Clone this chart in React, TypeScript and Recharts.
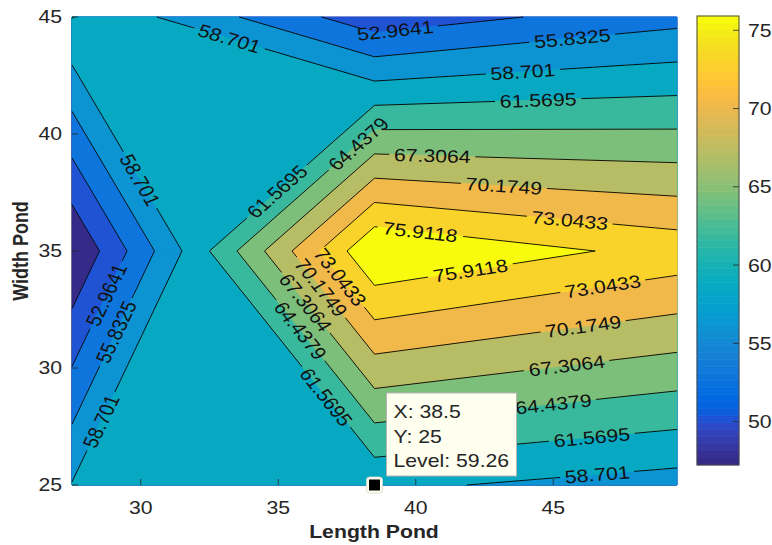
import React from 'react';
import { ComposedChart, Scatter, XAxis, YAxis } from 'recharts';

// grid the surface was sampled on (Length Pond x Width Pond)
const LENGTH_POND = [27.5, 38.5, 49.5];
const WIDTH_POND = [25, 35, 45];
const LEVEL_W25 = [58.85, 59.26, 57.43];
const LEVEL_W35 = [47.2271, 78.7803, 74.85];
const LEVEL_W45 = [61.65, 51.13, 54.86];

const CONTOUR_LEVELS = [50.0956, 52.9641, 55.8325, 58.701, 61.5695, 64.4379, 67.3064, 70.1749, 73.0433, 75.9118];
const X_TICKS = [30, 35, 40, 45];
const Y_TICKS = [25, 30, 35, 40, 45];
const COLORBAR_TICKS = [50, 55, 60, 65, 70, 75];
const PROBE = [{ x: 38.5, y: 25 }];

// where the inline labels sit: [level, length, width]
const LABEL_SPOTS: [number, number, number][] = [
  [52.9641, 39.25, 44.44], [52.9641, 28.8, 33.1],
  [55.8325, 45.7, 44.0], [55.8325, 29.2, 31.5],
  [58.701, 33.2, 44.0], [58.701, 43.9, 42.6], [58.701, 29.9, 38.0], [58.701, 28.6, 27.7], [58.701, 46.6, 25.4],
  [61.5695, 44.45, 41.45], [61.5695, 35.0, 37.5], [61.5695, 36.8, 28.8], [61.5695, 46.4, 27.05],
  [64.4379, 38.1, 39.4], [64.4379, 35.8, 31.6], [64.4379, 45.0, 28.5],
  [67.3064, 40.6, 39.0], [67.3064, 36.15, 32.9], [67.3064, 45.5, 30.0],
  [70.1749, 43.2, 37.7], [70.1749, 36.5, 33.4], [70.1749, 46.1, 31.7],
  [73.0433, 45.6, 36.3], [73.0433, 37.2, 33.85], [73.0433, 46.8, 33.5],
  [75.9118, 40.15, 35.7], [75.9118, 42.0, 34.1],
];

// parula, 64 steps
const PARULA = [
  '#352a87', '#363093', '#3637a0', '#353dad', '#3243ba', '#2c4ac7', '#2053d4', '#0f5cdd',
  '#0363e1', '#0268e1', '#046de0', '#0871de', '#0d75dc', '#1079da', '#127dd8', '#1481d6',
  '#1485d4', '#1389d3', '#108ed2', '#0c93d2', '#0998d1', '#079ccf', '#06a0cd', '#06a4ca',
  '#06a7c6', '#07a9c2', '#0aacbe', '#0faeb9', '#15b1b4', '#1db3af', '#25b5a9', '#2eb7a4',
  '#38b99e', '#42bb98', '#4dbc92', '#59bd8c', '#65be86', '#71bf80', '#7cbf7b', '#87bf77',
  '#92bf73', '#9cbf6f', '#a5be6b', '#aebe67', '#b7bd64', '#c0bc60', '#c8bc5d', '#d1bb59',
  '#d9ba56', '#e1b952', '#e9b94e', '#f1b94a', '#f8bb44', '#fdbe3d', '#ffc337', '#fec832',
  '#fcce2e', '#fad32a', '#f7d826', '#f5de21', '#f5e41d', '#f5eb18', '#f6f313', '#f9fb0e',
];

const W = 772;
const H = 545;
const S = 1.18; // the exported figure was stretched sideways
const FONT = '"Liberation Sans", Arial, Helvetica, sans-serif';
const INK = '#262626';

const GRID = [LEVEL_W25, LEVEL_W35, LEVEL_W45];
const C_MIN = Math.min(...GRID.flat());
const C_MAX = CONTOUR_LEVELS[CONTOUR_LEVELS.length - 1];

type Pt = { x: number; y: number };
type Cell = { p: Pt[]; v: number[] };

const CELLS: Cell[] = [];
for (let j = 0; j < WIDTH_POND.length - 1; j++) {
  for (let i = 0; i < LENGTH_POND.length - 1; i++) {
    const x0 = LENGTH_POND[i], x1 = LENGTH_POND[i + 1];
    const y0 = WIDTH_POND[j], y1 = WIDTH_POND[j + 1];
    CELLS.push({
      p: [{ x: x0, y: y0 }, { x: x1, y: y0 }, { x: x1, y: y1 }, { x: x0, y: y1 }],
      v: [GRID[j][i], GRID[j][i + 1], GRID[j + 1][i + 1], GRID[j + 1][i]],
    });
  }
}

const mean = (v: number[]) => v.reduce((a, b) => a + b, 0) / v.length;
const isSaddle = (hi: boolean[]) => hi[0] === hi[2] && hi[1] === hi[3] && hi[0] !== hi[1];

function cross(c: Cell, a: number, b: number, lev: number): Pt {
  const t = (lev - c.v[a]) / (c.v[b] - c.v[a]);
  return { x: c.p[a].x + t * (c.p[b].x - c.p[a].x), y: c.p[a].y + t * (c.p[b].y - c.p[a].y) };
}

// part of a cell at or above lev (marching squares)
function region(c: Cell, lev: number): Pt[][] {
  const hi = c.v.map((v) => v >= lev);
  if (!hi.some(Boolean)) return [];
  if (isSaddle(hi) && mean(c.v) < lev) {
    return [0, 1, 2, 3]
      .filter((k) => hi[k])
      .map((k) => [cross(c, (k + 3) % 4, k, lev), c.p[k], cross(c, k, (k + 1) % 4, lev)]);
  }
  const poly: Pt[] = [];
  for (let k = 0; k < 4; k++) {
    const m = (k + 1) % 4;
    if (hi[k]) poly.push(c.p[k]);
    if (hi[k] !== hi[m]) poly.push(cross(c, k, m, lev));
  }
  return [poly];
}

function segments(c: Cell, lev: number): Pt[][] {
  const hi = c.v.map((v) => v >= lev);
  if (isSaddle(hi)) {
    const wrap = mean(c.v) < lev;
    return [0, 1, 2, 3]
      .filter((k) => hi[k] === wrap)
      .map((k) => [cross(c, (k + 3) % 4, k, lev), cross(c, k, (k + 1) % 4, lev)]);
  }
  const pts: Pt[] = [];
  for (let k = 0; k < 4; k++) {
    const m = (k + 1) % 4;
    if (hi[k] !== hi[m]) pts.push(cross(c, k, m, lev));
  }
  return pts.length === 2 ? [pts] : [];
}

const fmt = (v: number) => String(Number(v.toFixed(4)));
const bandColor = (k: number) => PARULA[Math.min(PARULA.length - 1, Math.floor((k * PARULA.length) / CONTOUR_LEVELS.length))];

const FILLS = [-Infinity, ...CONTOUR_LEVELS].map((lev, k) => {
  const polys = CELLS.flatMap((c) => region(c, lev));
  return { color: bandColor(k), data: polys.flat(), sizes: polys.map((p) => p.length) };
});

const LINES = CONTOUR_LEVELS.map((lev) => CELLS.flatMap((c) => segments(c, lev)).flat());

const LABEL_POINTS: Pt[] = [];
const LABEL_TEXTS: string[] = [];
LABEL_SPOTS.forEach(([lev, x, y]) => {
  let best: { q: Pt; dx: number; dy: number } | null = null;
  let bd = Infinity;
  CELLS.forEach((c) =>
    segments(c, lev).forEach(([a, b]) => {
      const dx = b.x - a.x, dy = b.y - a.y;
      let t = ((x - a.x) * dx + (y - a.y) * dy) / (dx * dx + dy * dy);
      t = Math.max(0, Math.min(1, t));
      const q = { x: a.x + t * dx, y: a.y + t * dy };
      const d = Math.hypot(q.x - x, q.y - y);
      if (d < bd) { bd = d; best = { q, dx, dy }; }
    })
  );
  if (!best) return;
  const b = best as { q: Pt; dx: number; dy: number };
  LABEL_POINTS.push(b.q, { x: b.q.x + b.dx * 0.05, y: b.q.y + b.dy * 0.05 });
  LABEL_TEXTS.push(fmt(lev));
});

// colorbar: one pair of corners per colormap step
const CB_STEP = (C_MAX - C_MIN) / PARULA.length;
const COLORBAR_CORNERS = PARULA.flatMap((_, i) => [
  { x: 0, y: C_MIN + i * CB_STEP },
  { x: 1, y: C_MIN + (i + 1) * CB_STEP },
]);

const Nothing = () => <g />;

const toPath = (pts: Pt[], sizes: number[], close: boolean) => {
  let d = '';
  let o = 0;
  sizes.forEach((s) => {
    d += 'M' + pts.slice(o, o + s).map((p) => `${p.x},${p.y}`).join('L') + (close ? 'Z' : '');
    o += s;
  });
  return d;
};

const emWidth = (s: string) => [...s].reduce((a, ch) => a + (ch === '.' || ch === ':' || ch === ' ' ? 0.278 : 0.556), 0);

function SText({ x, y, rotate = 0, anchor = 'middle', size = 18, weight = 'normal', fill = INK, dy, children }: any) {
  return (
    <text
      transform={`translate(${x},${y}) scale(${S},1) rotate(${rotate})`}
      textAnchor={anchor}
      fontSize={size}
      fontFamily={FONT}
      fontWeight={weight}
      fill={fill}
      dy={dy}
    >
      {children}
    </text>
  );
}

function renderLabels(p: any) {
  const pts: Pt[] = p.points || [];
  const items = LABEL_TEXTS.map((txt, i) => {
    const a = pts[2 * i], b = pts[2 * i + 1];
    if (!a || !b) return null;
    let ang = (Math.atan2(b.y - a.y, (b.x - a.x) / S) * 180) / Math.PI;
    if (ang > 90) ang -= 180;
    if (ang < -90) ang += 180;
    return { txt, x: a.x, y: a.y, ang, w: emWidth(txt) * 18 };
  }).filter(Boolean) as { txt: string; x: number; y: number; ang: number; w: number }[];
  return (
    <g>
      <defs>
        <mask id="label-gaps" maskUnits="userSpaceOnUse" x={0} y={0} width={W} height={H}>
          <rect x={0} y={0} width={W} height={H} fill="#fff" />
          {items.map((it, i) => (
            <rect
              key={i}
              transform={`translate(${it.x},${it.y}) scale(${S},1) rotate(${it.ang})`}
              x={-it.w / 2 - 4}
              y={-6}
              width={it.w + 8}
              height={12}
              fill="#000"
            />
          ))}
        </mask>
      </defs>
      {items.map((it, i) => (
        <SText key={i} x={it.x} y={it.y} rotate={it.ang} fill="#111" dy="0.36em">
          {it.txt}
        </SText>
      ))}
    </g>
  );
}

function renderColorbar(p: any) {
  const pts: Pt[] = p.points || [];
  const rects = PARULA.map((c, i) => {
    const a = pts[2 * i], b = pts[2 * i + 1];
    if (!a || !b) return null;
    const x = Math.min(a.x, b.x), y = Math.min(a.y, b.y);
    return <rect key={i} x={x} y={y} width={Math.abs(b.x - a.x)} height={Math.abs(b.y - a.y)} fill={c} stroke={c} strokeWidth={0.6} />;
  });
  const first = pts[0], last = pts[pts.length - 1];
  return (
    <g>
      {rects}
      {first && last && (
        <rect
          x={Math.min(first.x, last.x)}
          y={Math.min(first.y, last.y)}
          width={Math.abs(last.x - first.x)}
          height={Math.abs(last.y - first.y)}
          fill="none"
          stroke="#4a4a4a"
          strokeWidth={1}
        />
      )}
    </g>
  );
}

const probeLevel = GRID[WIDTH_POND.indexOf(PROBE[0].y)][LENGTH_POND.indexOf(PROBE[0].x)];

function ProbeShape(p: any) {
  const { cx, cy, payload } = p;
  return (
    <g>
      <rect x={cx + 12} y={cy - 92} width={130} height={83} fill="#fffff0" stroke="#b5b5b5" strokeWidth={1} />
      <SText x={cx + 19} y={cy - 67} anchor="start" size={18}>{`X: ${payload.x}`}</SText>
      <SText x={cx + 19} y={cy - 42} anchor="start" size={18}>{`Y: ${payload.y}`}</SText>
      <SText x={cx + 19} y={cy - 18} anchor="start" size={18}>{`Level: ${probeLevel.toFixed(2)}`}</SText>
      <rect x={cx - 8} y={cy - 8} width={16} height={16} rx={3} fill="#fffff0" stroke="#d8d8c8" strokeWidth={0.8} />
      <rect x={cx - 5.5} y={cy - 5.5} width={11} height={11} fill="#000" />
    </g>
  );
}

const XTick = (p: any) => (
  <g>
    <line x1={p.x} x2={p.x} y1={p.y} y2={p.y - 6} stroke={INK} strokeWidth={0.8} />
    <SText x={p.x} y={p.y + 29}>{p.payload.value}</SText>
  </g>
);
const XTopTick = (p: any) => <line x1={p.x} x2={p.x} y1={p.y} y2={p.y + 6} stroke={INK} strokeWidth={0.8} />;
const YTick = (p: any) => (
  <g>
    <line x1={p.x} x2={p.x + 6} y1={p.y} y2={p.y} stroke={INK} strokeWidth={0.8} />
    <SText x={p.x - 10} y={p.y} anchor="end" dy="0.36em">{p.payload.value}</SText>
  </g>
);
const YRightTick = (p: any) => <line x1={p.x} x2={p.x - 6} y1={p.y} y2={p.y} stroke={INK} strokeWidth={0.8} />;
const CbTick = (p: any) => (
  <g>
    <line x1={p.x} x2={p.x - 6} y1={p.y} y2={p.y} stroke={INK} strokeWidth={0.8} />
    <SText x={p.x + 9} y={p.y} anchor="start" dy="0.36em">{p.payload.value}</SText>
  </g>
);

const X_DOMAIN = [LENGTH_POND[0], LENGTH_POND[LENGTH_POND.length - 1]];
const Y_DOMAIN = [WIDTH_POND[0], WIDTH_POND[WIDTH_POND.length - 1]];

export default function App() {
  return (
    <div style={{ position: 'absolute', left: 0, top: 0, width: W, height: H, background: '#fff' }}>
      <ComposedChart width={W} height={H} margin={{ top: 17, right: 95, bottom: 0, left: 0 }}>
        <XAxis
          dataKey="x"
          type="number"
          domain={X_DOMAIN}
          ticks={X_TICKS}
          interval={0}
          height={60}
          tickSize={0}
          tickMargin={0}
          tickLine={false}
          tick={XTick}
          axisLine={{ stroke: INK, strokeWidth: 1 }}
        />
        <XAxis
          xAxisId="top"
          orientation="top"
          type="number"
          domain={X_DOMAIN}
          ticks={X_TICKS}
          interval={0}
          height={0}
          tickSize={0}
          tickMargin={0}
          tickLine={false}
          tick={XTopTick}
          axisLine={{ stroke: INK, strokeWidth: 1 }}
        />
        <YAxis
          dataKey="y"
          type="number"
          domain={Y_DOMAIN}
          ticks={Y_TICKS}
          interval={0}
          width={72}
          tickSize={0}
          tickMargin={0}
          tickLine={false}
          tick={YTick}
          axisLine={{ stroke: INK, strokeWidth: 1 }}
        />
        <YAxis
          yAxisId="right"
          orientation="right"
          type="number"
          domain={Y_DOMAIN}
          ticks={Y_TICKS}
          interval={0}
          width={0}
          tickSize={0}
          tickMargin={0}
          tickLine={false}
          tick={YRightTick}
          axisLine={{ stroke: INK, strokeWidth: 1 }}
        />

        {FILLS.map((f, k) =>
          f.data.length ? (
            <Scatter
              key={`fill-${k}`}
              data={f.data}
              isAnimationActive={false}
              shape={Nothing}
              legendType="none"
              line={(p: any) => (
                <path d={toPath(p.points, f.sizes, true)} fill={f.color} stroke={f.color} strokeWidth={0.7} strokeLinejoin="round" />
              )}
            />
          ) : null
        )}

        {LINES.map((seg, k) =>
          seg.length ? (
            <Scatter
              key={`line-${k}`}
              data={seg}
              isAnimationActive={false}
              shape={Nothing}
              legendType="none"
              line={(p: any) => (
                <path
                  d={toPath(p.points, Array(seg.length / 2).fill(2), false)}
                  fill="none"
                  stroke="#000"
                  strokeWidth={0.9}
                  mask="url(#label-gaps)"
                />
              )}
            />
          ) : null
        )}

        <Scatter data={LABEL_POINTS} isAnimationActive={false} shape={Nothing} legendType="none" line={renderLabels} />

        <Scatter data={PROBE} isAnimationActive={false} shape={ProbeShape} legendType="none" />

        <text x={374} y={538} textAnchor="middle" fontSize={18} fontWeight="bold" fontFamily={FONT} fill={INK}
          transform={`translate(374,0) scale(${S},1) translate(-374,0)`}>
          Length Pond
        </text>
        <text transform={`translate(28,251) scale(${S},1) rotate(-90)`} textAnchor="middle" fontSize={18}
          fontWeight="bold" fontFamily={FONT} fill={INK}>
          Width Pond
        </text>
      </ComposedChart>

      <div style={{ position: 'absolute', left: 680, top: 0 }}>
        <ComposedChart width={92} height={H} margin={{ top: 16, right: 0, bottom: 80, left: 17 }}>
          <XAxis type="number" dataKey="x" domain={[0, 1]} hide />
          <YAxis
            type="number"
            dataKey="y"
            orientation="right"
            domain={[C_MIN, C_MAX]}
            ticks={COLORBAR_TICKS}
            interval={0}
            width={33}
            tickSize={0}
            tickMargin={0}
            tickLine={false}
            axisLine={false}
            tick={CbTick}
          />
          <Scatter data={COLORBAR_CORNERS} isAnimationActive={false} shape={Nothing} legendType="none" line={renderColorbar} />
        </ComposedChart>
      </div>
    </div>
  );
}
